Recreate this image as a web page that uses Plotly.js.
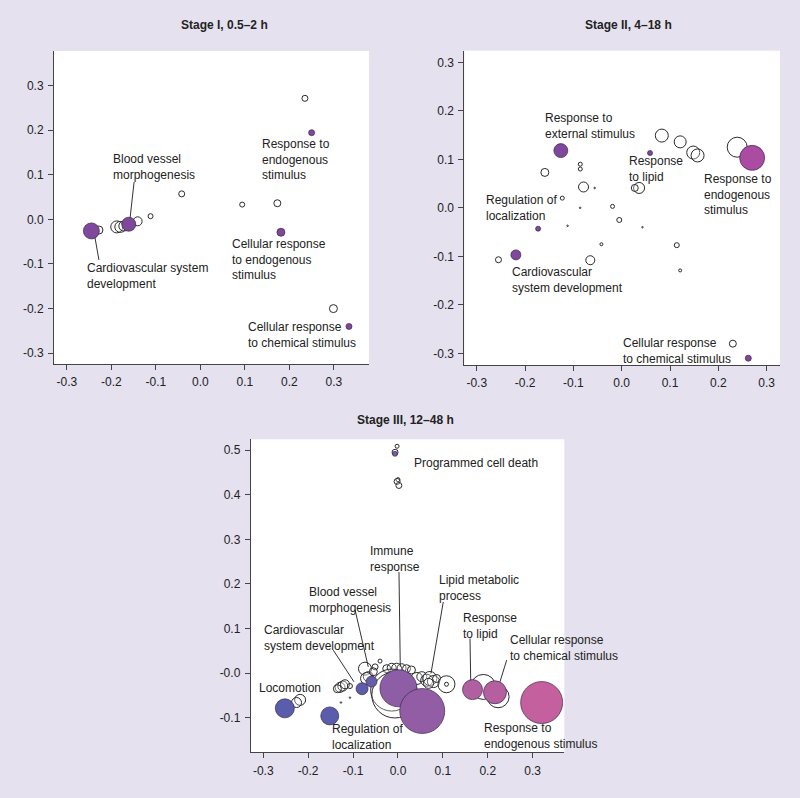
<!DOCTYPE html>
<html>
<head>
<meta charset="utf-8">
<script src="https://cdn.plot.ly/plotly-3.0.1.min.js"></script>
<style>html,body{margin:0;padding:0;background:#E5E1EF;}#chart{width:800px;height:798px;}</style>
</head>
<body>
<div id="chart"></div>
<script>
// ---------- Stage I, 0.5–2 h ----------
const s1OpenX = [0.235, -0.042, 0.094, 0.173, 0.299, -0.112, -0.228, -0.188, -0.180, -0.172, -0.141];
const s1OpenY = [0.271, 0.057, 0.033, 0.036, -0.200, 0.007, -0.024, -0.017, -0.017, -0.015, -0.0045];
const s1OpenSize = [6, 6, 5, 7, 8, 5, 8, 12, 11, 10, 9];
const s1Terms = ["Response to endogenous stimulus", "Cellular response to endogenous stimulus", "Cellular response to chemical stimulus", "Cardiovascular system development", "Blood vessel morphogenesis"];
const s1X = [0.250, 0.181, 0.334, -0.245, -0.161];
const s1Y = [0.194, -0.029, -0.240, -0.026, -0.011];
const s1Size = [6, 8, 6, 16, 14];
const s1Score = [0.1, 0.1, 0.1, 0.1, 0.1];

// ---------- Stage II, 4–18 h ----------
const s2OpenX = [0.239, 0.083, 0.121, 0.148, 0.157, -0.159, -0.0857, -0.0857, -0.079, -0.056, 0.036, 0.027, -0.123, -0.086, -0.019, -0.005, -0.112, 0.043, -0.042, 0.114, -0.255, -0.065, 0.121, 0.230];
const s2OpenY = [0.125, 0.149, 0.136, 0.114, 0.108, 0.073, 0.090, 0.080, 0.043, 0.041, 0.041, 0.041, 0.020, 0.000, 0.003, -0.025, -0.037, -0.040, -0.075, -0.077, -0.107, -0.108, -0.129, -0.280];
const s2OpenSize = [20, 13, 12, 13, 13, 8, 4, 4, 10, 1.5, 11, 7, 4, 1.5, 4, 5, 1.5, 1.5, 3, 5, 6, 9, 3, 7];
const s2Terms = ["Response to external stimulus", "Response to lipid", "Response to endogenous stimulus", "Regulation of localization", "Cardiovascular system development", "Cellular response to chemical stimulus"];
const s2X = [-0.126, 0.0586, 0.270, -0.173, -0.219, 0.262];
const s2Y = [0.118, 0.113, 0.103, -0.043, -0.097, -0.310];
const s2Size = [14, 5, 25, 5, 10, 6];
const s2Score = [0.1, 0.1, 0.95, 0.1, 0.1, 0.1];

// ---------- Stage III, 12–48 h ----------
const s3OpenX = [-0.218, -0.226, -0.127, -0.107, -0.129, -0.123, -0.118, -0.135, -0.107,
  -0.0735, -0.066, -0.051, -0.040, -0.055, -0.070,
  -0.025, -0.014, -0.003, 0.008, 0.019, 0.030, -0.014, -0.007,
  0.042, 0.053, 0.064, 0.071, 0.079, 0.068, 0.086, 0.108, 0.108, 0.190, 0.223,
  -0.002, -0.0065, 0.000, -0.002, 0.002];
const s3OpenY = [-0.060, -0.066, -0.066, -0.055, -0.032, -0.029, -0.025, -0.035, -0.029,
  0.010, -0.008, 0.014, 0.027, 0.003, -0.012,
  0.010, 0.012, 0.011, 0.011, 0.010, 0.007, -0.038, -0.049,
  -0.012, -0.008, -0.016, -0.012, -0.019, -0.023, -0.012, -0.025, -0.025, -0.031, -0.053,
  0.509, 0.4955, 0.434, 0.430, 0.421];
const s3OpenSize = [11, 10, 1.5, 1.5, 10, 10, 9, 8, 5,
  13, 10, 6, 4, 8, 12,
  8, 9, 10, 9, 8, 8, 42, 46,
  12, 10, 12, 14, 12, 10, 8, 17, 4, 25, 22,
  4, 6, 4, 6, 6];
const s3Terms = ["Locomotion", "Regulation of localization", "Cardiovascular system development", "Blood vessel morphogenesis", "Immune response", "Lipid metabolic process", "Response to lipid", "Cellular response to chemical stimulus", "Response to endogenous stimulus", "Programmed cell death"];
const s3X = [-0.252, -0.152, -0.080, -0.059, 0.001, 0.054, 0.166, 0.216, 0.320, -0.0067];
const s3Y = [-0.079, -0.096, -0.035, -0.019, -0.034, -0.085, -0.037, -0.043, -0.066, 0.492];
const s3Size = [19, 18, 12, 11, 37, 45, 20, 23, 42, 5];
const s3Score = [0.02, 0.02, 0.05, 0.1, 0.5, 0.55, 0.82, 0.86, 1.0, 0.3];

const tickVals12 = [-0.3, -0.2, -0.1, 0.0, 0.1, 0.2, 0.3];
const tickText12 = ["-0.3", "-0.2", "-0.1", "0.0", "0.1", "0.2", "0.3"];
const tickVals3Y = [-0.1, 0.0, 0.1, 0.2, 0.3, 0.4, 0.5];
const tickText3Y = ["-0.1", "-0.0", "0.1", "0.2", "0.3", "0.4", "0.5"];

const panelTitles = ["Stage I, 0.5–2 h", "Stage II, 4–18 h", "Stage III, 12–48 h"];

// label texts
const s1Labels = ["Blood vessel<br>morphogenesis", "Cardiovascular system<br>development", "Response to<br>endogenous<br>stimulus", "Cellular response<br>to endogenous<br>stimulus", "Cellular response<br>to chemical stimulus"];
const s2Labels = ["Response to<br>external stimulus", "Response<br>to lipid", "Response to<br>endogenous<br>stimulus", "Regulation of<br>localization", "Cardiovascular<br>system development", "Cellular response<br>to chemical stimulus"];
const s3Labels = ["Programmed cell death", "Immune<br>response", "Lipid metabolic<br>process", "Blood vessel<br>morphogenesis", "Cardiovascular<br>system development", "Response<br>to lipid", "Cellular response<br>to chemical stimulus", "Locomotion", "Regulation of<br>localization", "Response to<br>endogenous stimulus"];

// ---------- layout / styling ----------
const FONT = "Liberation Sans, Arial, Helvetica, sans-serif";
const TXT = "#222";
const scale12 = [[0, "#7A489C"], [1, "#AE4CA2"]];
const scale3 = [[0, "#585DAB"], [0.5, "#8D5DA6"], [1, "#C4609E"]];

function openTrace(x, y, s, xa, ya) {
  return {x: x, y: y, type: "scatter", mode: "markers", xaxis: xa, yaxis: ya, hoverinfo: "skip",
    marker: {size: s, sizemode: "diameter", opacity: 1, color: "rgba(255,255,255,0.25)", line: {color: "#2a2a2a", width: 1}}, cliponaxis: false};
}
function colTrace(x, y, s, c, names, scale, xa, ya) {
  return {x: x, y: y, text: names, type: "scatter", mode: "markers", xaxis: xa, yaxis: ya, hoverinfo: "text",
    marker: {size: s, sizemode: "diameter", opacity: 1, color: c, cmin: 0, cmax: 1, colorscale: scale, showscale: false,
      line: {color: "rgba(55,35,70,0.85)", width: 0.8}}, cliponaxis: false};
}

const data = [
  openTrace(s1OpenX, s1OpenY, s1OpenSize, "x", "y"),
  colTrace(s1X, s1Y, s1Size, s1Score, s1Terms, scale12, "x", "y"),
  openTrace(s2OpenX, s2OpenY, s2OpenSize, "x2", "y2"),
  colTrace(s2X, s2Y, s2Size, s2Score, s2Terms, scale12, "x2", "y2"),
  openTrace(s3OpenX, s3OpenY, s3OpenSize, "x3", "y3"),
  colTrace(s3X, s3Y, s3Size, s3Score, s3Terms, scale3, "x3", "y3")
];

function ax(extra) {
  return Object.assign({
    showgrid: false, zeroline: false, showline: true, linecolor: "#444", linewidth: 1,
    ticks: "outside", ticklen: 5, tickcolor: "#444", tickwidth: 1, ticklabelstandoff: 2,
    tickfont: {family: FONT, size: 12, color: TXT}, fixedrange: true
  }, extra);
}

function lab(text, x, y, xr, yr) {
  return {text: text, x: x, y: y, xref: xr, yref: yr, xanchor: "left", yanchor: "middle", align: "left",
    showarrow: false, font: {family: FONT, size: 12, color: TXT}};
}
function lead(x0, y0, x1, y1, xr, yr) {
  return {type: "line", x0: x0, y0: y0, x1: x1, y1: y1, xref: xr, yref: yr, line: {color: "#333", width: 1}};
}
function ttl(text, x, y) {
  return {text: "<b>" + text + "</b>", x: x, y: y, xref: "paper", yref: "paper", xanchor: "center", yanchor: "middle",
    showarrow: false, font: {family: FONT, size: 12, color: TXT}};
}

const annotations = [
  ttl(panelTitles[0], 0.281, 0.9687),
  ttl(panelTitles[1], 0.786, 0.9687),
  ttl(panelTitles[2], 0.5075, 0.4737),
  // Stage I
  lab(s1Labels[0], -0.202, 0.118, "x", "y"),
  lab(s1Labels[1], -0.2596, -0.126, "x", "y"),
  lab(s1Labels[2], 0.1337, 0.135, "x", "y"),
  lab(s1Labels[3], 0.0663, -0.091, "x", "y"),
  lab(s1Labels[4], 0.1016, -0.258, "x", "y"),
  // Stage II
  lab(s2Labels[0], -0.162, 0.168, "x2", "y2"),
  lab(s2Labels[1], 0.0103, 0.0794, "x2", "y2"),
  lab(s2Labels[2], 0.1655, 0.0285, "x2", "y2"),
  lab(s2Labels[3], -0.285, 0.000, "x2", "y2"),
  lab(s2Labels[4], -0.231, -0.149, "x2", "y2"),
  lab(s2Labels[5], -0.002, -0.295, "x2", "y2"),
  // Stage III
  lab(s3Labels[0], 0.0305, 0.4717, "x3", "y3"),
  lab(s3Labels[1], -0.066, 0.2563, "x3", "y3"),
  lab(s3Labels[2], 0.0869, 0.1907, "x3", "y3"),
  lab(s3Labels[3], -0.2034, 0.1645, "x3", "y3"),
  lab(s3Labels[4], -0.3036, 0.0784, "x3", "y3"),
  lab(s3Labels[5], 0.1403, 0.1057, "x3", "y3"),
  lab(s3Labels[6], 0.2457, 0.0564, "x3", "y3"),
  lab(s3Labels[7], -0.3148, -0.0329, "x3", "y3"),
  lab(s3Labels[8], -0.1515, -0.1444, "x3", "y3"),
  lab(s3Labels[9], 0.1865, -0.1415, "x3", "y3")
];

const shapes = [
  lead(-0.149, 0.0835, -0.158, 0.003, "x", "y"),
  lead(-0.237, -0.040, -0.228, -0.091, "x", "y"),
  lead(0.0022, 0.2268, 0.0051, 0.0141, "x3", "y3"),
  lead(0.1009, 0.1596, 0.0735, -0.0007, "x3", "y3"),
  lead(-0.0958, 0.1426, -0.0662, 0.0141, "x3", "y3"),
  lead(-0.1441, 0.0515, -0.098, -0.0195, "x3", "y3"),
  lead(0.1604, 0.0777, 0.1620, -0.0157, "x3", "y3"),
  lead(0.2421, 0.0291, 0.2272, -0.0195, "x3", "y3")
];

const layout = {
  width: 800, height: 798,
  margin: {l: 0, r: 0, t: 0, b: 0},
  paper_bgcolor: "#E5E1EF", plot_bgcolor: "#FFFFFF",
  showlegend: false,
  font: {family: FONT, size: 12, color: TXT},
  xaxis: ax({domain: [0.0675, 0.46125], range: [-0.329, 0.379], tickvals: tickVals12, ticktext: tickText12, anchor: "y"}),
  yaxis: ax({domain: [0.5439, 0.9361], range: [-0.324, 0.377], tickvals: tickVals12, ticktext: tickText12, anchor: "x"}),
  xaxis2: ax({domain: [0.5804, 0.975], range: [-0.3257, 0.3276], tickvals: tickVals12, ticktext: tickText12, anchor: "y2"}),
  yaxis2: ax({domain: [0.5426, 0.9365], range: [-0.324, 0.324], tickvals: tickVals12, ticktext: tickText12, anchor: "x2"}),
  xaxis3: ax({domain: [0.3134, 0.7054], range: [-0.328, 0.3705], tickvals: tickVals12, ticktext: tickText12, anchor: "y3"}),
  yaxis3: ax({domain: [0.0573, 0.4495], range: [-0.1776, 0.5246], tickvals: tickVals3Y, ticktext: tickText3Y, anchor: "x3"}),
  annotations: annotations,
  shapes: shapes
};

Plotly.newPlot("chart", data, layout, {displayModeBar: false, staticPlot: true});
</script>
</body>
</html>
